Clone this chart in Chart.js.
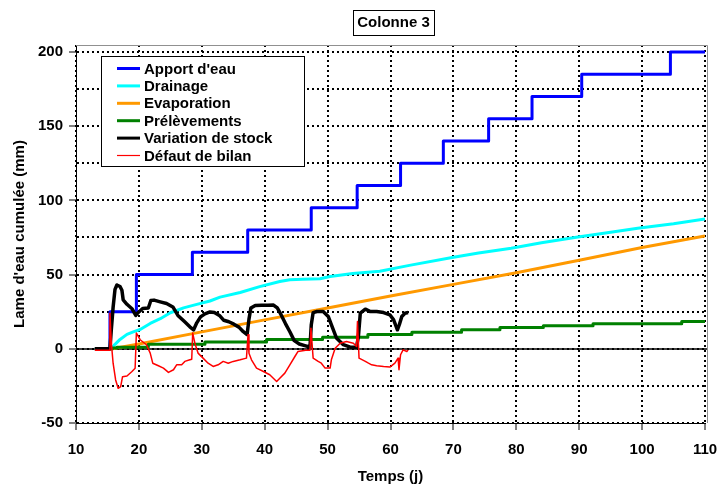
<!DOCTYPE html>
<html><head><meta charset="utf-8">
<script src="https://cdn.jsdelivr.net/npm/chart.js@4.4.0/dist/chart.umd.min.js"></script>
<style>html,body{margin:0;padding:0;background:#fff;}canvas{display:block}</style>
</head><body>
<canvas id="c" width="720" height="491"></canvas>
<script>
const chartTitle = 'Colonne 3';
const xAxisTitle = 'Temps (j)';
const yAxisTitle = "Lame d'eau cumulée (mm)";
const seriesNames = ["Apport d'eau", 'Drainage', 'Evaporation', 'Prélèvements', 'Variation de stock', 'Défaut de bilan'];
const xTickValues = [10, 20, 30, 40, 50, 60, 70, 80, 90, 100, 110];
const yTickValues = [-50, -25, 0, 25, 50, 75, 100, 125, 150, 175, 200];

const apportX = [13, 15.4, 19.6, 28.5, 37.3, 47.4, 54.7, 61.6, 68.4, 75.6, 82.5, 90.4, 104.5, 110];
const apportY = [0, 25, 50, 65, 80, 95, 110, 125, 140, 155, 170, 185, 200, 200];

const drainageX = [13, 15.6, 16.2, 17.0, 18.1, 19.1, 20.2, 21.8, 23.4, 25.0, 27.1, 29.2, 31.3, 32.9, 36.1, 39.2, 42.4, 44.0, 46, 48.8, 50.4, 54, 58.3, 63, 69.8, 74, 79.2, 84, 89.8, 95, 99.3, 105, 110];
const drainageY = [0, 0, 3.0, 6.3, 9.7, 11.4, 13.0, 17.1, 20.3, 24.3, 27.6, 29.9, 32.2, 34.8, 37.9, 41.9, 45.3, 46.5, 46.8, 47.2, 48.7, 50.8, 52.3, 56.2, 61.5, 64.5, 67.8, 71.5, 75.4, 78.6, 81.2, 84.2, 87.5];

const evapX = [13, 15.8, 20, 30, 40, 50, 60, 70, 80, 90, 100, 110];
const evapY = [0, 0, 3.2, 11.4, 19.5, 27.5, 35.6, 43.4, 51.3, 59.6, 68.2, 76];

const prelevX = [13, 15.8, 16.5, 21.5, 30.5, 40.3, 49.2, 56.4, 63.4, 71.3, 77.4, 84.3, 92.2, 106.3, 110];
const prelevY = [0, 0.5, 1.0, 3.0, 4.6, 6.3, 7.8, 9.7, 11.2, 12.8, 14.4, 15.6, 16.8, 18.4, 18.4];

const stockX = [13, 15.4, 15.6, 15.9, 16.2, 16.5, 17.0, 17.3, 17.5, 18.1, 18.9, 19.5, 19.9, 20.6, 21.5, 21.9, 22.4, 23.4, 24.4, 25.4, 26.2, 27.2, 28.1, 28.7, 29.2, 29.8, 30.5, 31.3, 32.0, 32.8, 33.5, 34.3, 35.1, 35.9, 36.6, 37.2, 37.5, 37.8, 38.5, 39.5, 40.5, 41.4, 42.0, 42.6, 43.3, 44.0, 44.7, 45.5, 46.5, 47.2, 47.4, 47.7, 48.3, 49.3, 50.1, 50.7, 51.4, 52.5, 53.6, 54.6, 54.9, 55.2, 56.0, 56.8, 57.8, 58.9, 59.9, 60.5, 61.1, 61.4, 61.8, 62.3, 62.8];
const stockY = [0, 0, 12, 28, 40, 43, 42, 39.5, 33, 30, 27, 22.5, 24.5, 27.2, 27.5, 32.5, 32.8, 31.6, 30.5, 28.2, 22.5, 18.5, 14.8, 12.8, 17.5, 21.5, 23.5, 24.8, 24.5, 22.5, 19.2, 18.2, 16.6, 14.6, 11.5, 9.5, 20, 27.5, 29.2, 29.4, 29.3, 29.5, 27.5, 23, 17, 11.5, 5.5, 3.2, 2.0, 1.2, 16, 24.4, 25.1, 25.1, 21.8, 15.1, 7.3, 2.8, 1.1, 1.1, 8.3, 24.0, 26.7, 25.1, 25.1, 24.4, 22.9, 19.5, 12.8, 16.2, 21.8, 24.0, 24.4];

const defautX = [13, 15.3, 15.4, 15.6, 15.9, 16.3, 16.7, 17.1, 17.4, 18.1, 18.9, 19.4, 19.6, 20.2, 21.2, 21.8, 22.2, 23.1, 23.9, 24.7, 25.5, 26.0, 26.8, 27.3, 28.1, 28.4, 28.55, 28.9, 29.4, 30.2, 31.0, 31.8, 32.6, 33.4, 34.2, 35.0, 36.1, 37.1, 37.35, 37.5, 37.9, 38.7, 39.8, 40.8, 41.9, 42.4, 43.2, 44.0, 44.8, 45.3, 46.5, 47.2, 47.35, 47.7, 48.5, 49.0, 49.6, 50.4, 50.6, 51.2, 52.0, 53.0, 54.1, 54.6, 54.75, 55.0, 56.0, 56.5, 57.0, 57.8, 58.9, 59.9, 60.7, 61.2, 61.35, 61.6, 62.0, 62.6, 62.8];
const defautY = [-1, -1, 24, 5, -9.7, -21, -26.6, -25.5, -18.8, -18.3, -15.3, -13.1, 10.6, 6.1, 2.7, -2.9, -9.7, -11.4, -13, -15.9, -14.1, -10.8, -10.8, -8.5, -7.4, -7.0, 10.6, 3.8, -2.9, -6.3, -9.7, -11.9, -10.8, -8.5, -9.7, -8.5, -7.4, -6.3, 9.4, -3, -7.4, -13, -15.3, -17.5, -22, -19.8, -16.4, -10.8, -5.2, -1.8, -1, -1, 13.9, -6.3, -8.5, -9.7, -13, -13, -7.4, 0.4, 3.8, 4.9, 3.8, 1.6, 18.4, -6.3, -8.5, -9.7, -10.8, -11.4, -12, -12.3, -9.7, -6.3, -14.1, -4, -0.7, -1.8, -0.7];

const FONT = "'Liberation Sans', Arial, sans-serif";
const pts = (xs, ys) => xs.map((x, i) => ({x: x, y: ys[i]}));

const datasets = [
  {label: seriesNames[0], data: pts(apportX, apportY), borderColor: '#0000FF', borderWidth: 3, stepped: 'before', order: 6},
  {label: seriesNames[1], data: pts(drainageX, drainageY), borderColor: '#00FFFF', borderWidth: 3, order: 5},
  {label: seriesNames[2], data: pts(evapX, evapY), borderColor: '#FF9900', borderWidth: 3, order: 4},
  {label: seriesNames[3], data: pts(prelevX, prelevY), borderColor: '#008000', borderWidth: 3, stepped: 'before', order: 3},
  {label: seriesNames[4], data: pts(stockX, stockY), borderColor: '#000000', borderWidth: 3.5, order: 2},
  {label: seriesNames[5], data: pts(defautX, defautY), borderColor: '#FF0000', borderWidth: 1.5, order: 1}
];

const decor = {
  id: 'decor',
  beforeDatasetsDraw(chart) {
    const {ctx, chartArea: a, scales: {y}} = chart;
    ctx.save();
    ctx.strokeStyle = '#909090'; ctx.lineWidth = 1;
    ctx.beginPath();
    ctx.moveTo(a.left, a.top + 0.5);
    ctx.lineTo(a.right + 2.5, a.top + 0.5);
    ctx.lineTo(a.right + 2.5, a.bottom);
    ctx.stroke();
    const y0 = Math.round(y.getPixelForValue(0));
    ctx.strokeStyle = '#000'; ctx.lineWidth = 1.6;
    ctx.beginPath(); ctx.moveTo(a.left, y0); ctx.lineTo(a.right + 2, y0); ctx.stroke();
    ctx.restore();
  },
  afterDraw(chart) {
    const {ctx, chartArea: a} = chart;
    ctx.save();
    const lx = a.left + 25, ly = a.top + 11, lw = 203, lh = 110;
    ctx.fillStyle = '#fff';
    ctx.fillRect(lx, ly, lw, lh);
    ctx.strokeStyle = '#000'; ctx.lineWidth = 1;
    ctx.strokeRect(lx + 0.5, ly + 0.5, lw, lh);
    ctx.font = 'bold 15px ' + FONT;
    ctx.textBaseline = 'middle'; ctx.textAlign = 'left';
    chart.data.datasets.forEach((ds, i) => {
      const cy = ly + 12.5 + i * 17.4;
      ctx.strokeStyle = ds.borderColor;
      ctx.lineWidth = ds.borderWidth > 2 ? 3 : 1.2;
      ctx.beginPath(); ctx.moveTo(lx + 16, cy); ctx.lineTo(lx + 39, cy); ctx.stroke();
      ctx.fillStyle = '#000';
      ctx.fillText(ds.label, lx + 43, cy + 1);
    });
    ctx.font = 'bold 15px ' + FONT;
    const tw = ctx.measureText(chartTitle).width;
    const cx = (a.left + a.right) / 2 + 3;
    const bw = tw + 8, bh = 25;
    ctx.fillStyle = '#fff';
    ctx.fillRect(cx - bw / 2, 10, bw, bh);
    ctx.strokeStyle = '#000'; ctx.lineWidth = 1;
    ctx.strokeRect(Math.round(cx - bw / 2) + 0.5, 10.5, Math.round(bw), bh);
    ctx.fillStyle = '#000'; ctx.textAlign = 'center';
    ctx.fillText(chartTitle, cx, 23);
    ctx.restore();
  }
};

const tickFont = {family: FONT, size: 15, weight: 'bold'};
new Chart(document.getElementById('c').getContext('2d'), {
  type: 'line',
  data: {datasets: datasets},
  options: {
    responsive: false, animation: false, devicePixelRatio: 1,
    layout: {padding: {top: 45, right: 15, left: 0, bottom: 0}},
    elements: {point: {radius: 0}, line: {tension: 0, borderJoinStyle: 'round', borderCapStyle: 'butt', fill: false}},
    plugins: {legend: {display: false}, title: {display: false}, tooltip: {enabled: false}},
    scales: {
      x: {
        type: 'linear', min: 10, max: 110,
        afterBuildTicks: s => { s.ticks = xTickValues.map(v => ({value: v})); },
        afterFit: s => { s.height = 68; s.paddingLeft = 0; s.paddingRight = 0; },
        grid: {color: '#000', lineWidth: 2, drawTicks: true, tickLength: 7, tickColor: '#000', tickWidth: 1, tickBorderDash: []},
        border: {color: '#000', width: 1, dash: [2, 3]},
        ticks: {font: tickFont, color: '#000', padding: 11, maxRotation: 0, autoSkip: false},
        title: {display: true, text: xAxisTitle, font: tickFont, color: '#000', padding: {top: 0, bottom: 5}}
      },
      y: {
        type: 'linear', min: -50, max: 204.7,
        afterBuildTicks: s => { s.ticks = yTickValues.map(v => ({value: v})); },
        afterFit: s => { s.width = 76; s.paddingTop = 0; s.paddingBottom = 0; },
        grid: {color: '#000', lineWidth: 2, drawTicks: true, tickLength: 7, tickWidth: 1, tickBorderDash: [],
               tickColor: c => (c.tick && c.tick.value % 50 === 0) ? '#000' : 'rgba(0,0,0,0)'},
        border: {color: '#000', width: 1, dash: [2, 3]},
        ticks: {font: tickFont, color: '#000', padding: 6, autoSkip: false,
                callback: v => (v % 50 === 0 ? String(v) : '')},
        title: {display: true, text: yAxisTitle, font: tickFont, color: '#000', padding: {top: 11, bottom: 0}}
      }
    }
  },
  plugins: [decor]
});
</script>
</body></html>
